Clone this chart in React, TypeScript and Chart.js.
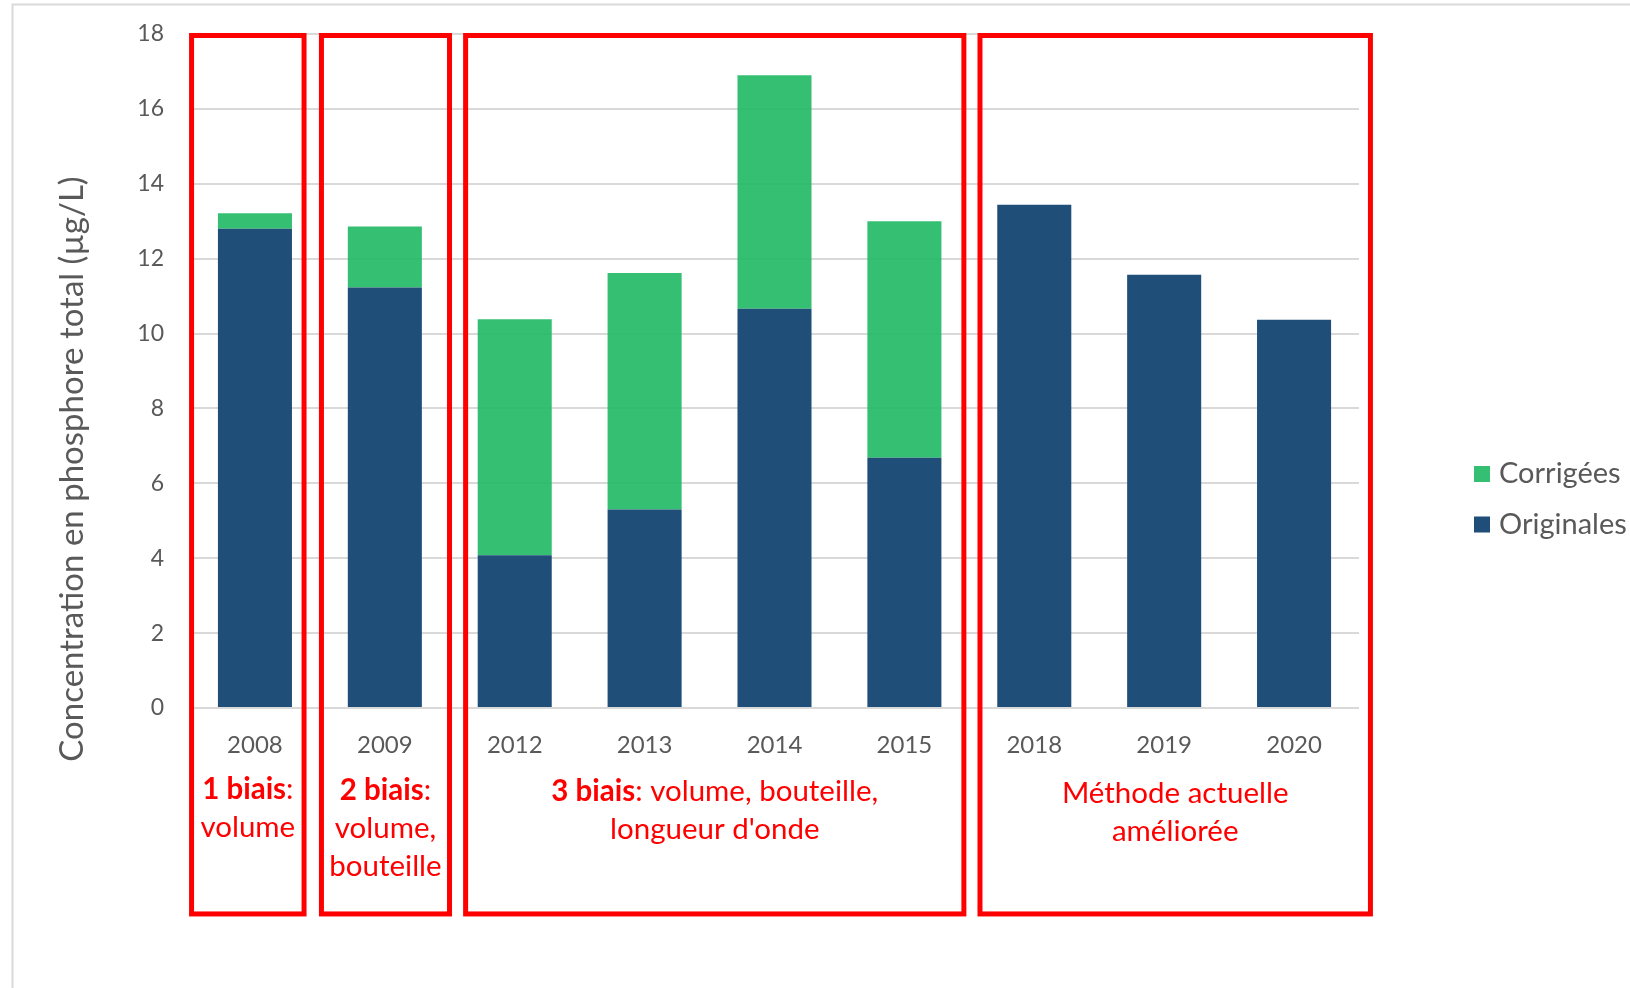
import React, { useEffect, useRef } from 'react';
import { Chart, registerables } from 'chart.js';

Chart.register(...registerables);

// ---- data ----
const categories = ['2008', '2009', '2012', '2013', '2014', '2015', '2018', '2019', '2020'];
const originales = [12.8, 11.23, 4.08, 5.3, 10.66, 6.68, 13.44, 11.57, 10.37];
const corrigees = [0.41, 1.63, 6.3, 6.32, 6.24, 6.32, null, null, null];
const yTicks = [0, 2, 4, 6, 8, 10, 12, 14, 16, 18];
const yTitle = 'Concentration en phosphore total (µg/L)';
const seriesLabels = ['Originales', 'Corrigées'];

// annotation groups (category-index extents) and their texts
const groupStart = [-0.488, 0.512, 1.622, 5.582];
const groupEnd = [0.378, 1.498, 5.458, 8.588];
const groupTop = 17.96;
const groupBottom = -5.5;
const groupLines = [
  [[['1 biais', true], [':', false]], [['volume', false]]],
  [[['2 biais', true], [':', false]], [['volume,', false]], [['bouteille', false]]],
  [[['3 biais', true], [': volume, bouteille,', false]], [["longueur d'onde", false]]],
  [[['Méthode actuelle', false]], [['améliorée', false]]],
];
const groupTextOffset = [81, 82, 83, 85];

const NAVY = '#1F4E79';
const GREEN = 'rgba(31,184,99,0.9)';
const GREEN_LEG = '#35BF73';
const GRAY = '#595959';
const RED = '#FF0000';
const FONT = 'Lato, "Open Sans", sans-serif';

export default function App() {
  const ref = useRef<HTMLCanvasElement>(null);

  useEffect(() => {
    const overlay = {
      id: 'overlay',
      beforeDraw(chart: any) {
        const ctx = chart.ctx;
        ctx.save();
        ctx.fillStyle = '#FFFFFF';
        ctx.fillRect(0, 0, chart.width, chart.height);
        ctx.strokeStyle = '#D9D9D9';
        ctx.lineWidth = 2;
        ctx.beginPath();
        ctx.moveTo(12.5, chart.height);
        ctx.lineTo(12.5, 4.5);
        ctx.lineTo(chart.width, 4.5);
        ctx.stroke();
        ctx.restore();
      },
      afterDraw(chart: any) {
        const ctx = chart.ctx;
        const xs = chart.scales.x;
        const ys = chart.scales.y;
        const area = chart.chartArea;
        ctx.save();
        // red boxes
        ctx.strokeStyle = RED;
        ctx.lineWidth = 5;
        const top = ys.getPixelForValue(groupTop);
        const bottom = ys.getPixelForValue(groupBottom);
        groupStart.forEach((s, i) => {
          const l = xs.getPixelForValue(s);
          const r = xs.getPixelForValue(groupEnd[i]);
          ctx.strokeRect(l, top, r - l, bottom - top);
          // texts
          const cx = (l + r) / 2;
          ctx.textBaseline = 'middle';
          ctx.fillStyle = RED;
          groupLines[i].forEach((line: any, k: number) => {
            const y = area.bottom + groupTextOffset[i] + k * 38;
            let total = 0;
            const widths = line.map(([t, b]: any) => {
              ctx.font = `${b ? 'bold ' : ''}29.5px ${FONT}`;
              const w = ctx.measureText(t).width;
              total += w;
              return w;
            });
            let x = cx - total / 2;
            ctx.textAlign = 'left';
            line.forEach(([t, b]: any, j: number) => {
              ctx.font = `${b ? 'bold ' : ''}29.5px ${FONT}`;
              ctx.fillText(t, x, y);
              x += widths[j];
            });
          });
        });
        // y axis title
        ctx.save();
        ctx.translate(72, 469);
        ctx.rotate(-Math.PI / 2);
        ctx.font = `33px ${FONT}`;
        ctx.fillStyle = GRAY;
        ctx.textAlign = 'center';
        ctx.textBaseline = 'middle';
        ctx.fillText(yTitle, 0, 0);
        ctx.restore();
        // legend (reversed order)
        const legColors = [GREEN_LEG, NAVY];
        const legLabels = [seriesLabels[1], seriesLabels[0]];
        ctx.font = `29px ${FONT}`;
        ctx.textAlign = 'left';
        ctx.textBaseline = 'middle';
        legLabels.forEach((lab, i) => {
          const cy = 474 + i * 50.5;
          ctx.fillStyle = legColors[i];
          ctx.fillRect(1474, cy - 8, 16, 16);
          ctx.fillStyle = GRAY;
          ctx.fillText(lab, 1499, cy);
        });
        ctx.restore();
      },
    };

    const chart = new Chart(ref.current as HTMLCanvasElement, {
      type: 'bar',
      data: {
        labels: categories,
        datasets: [
          { label: seriesLabels[0], data: originales, backgroundColor: NAVY, stack: 's' },
          { label: seriesLabels[1], data: corrigees as any, backgroundColor: GREEN, stack: 's' },
        ],
      },
      options: {
        responsive: false,
        animation: false,
        layout: { padding: { left: 0, right: 271, top: 34, bottom: 0 } },
        plugins: { legend: { display: false }, tooltip: { enabled: false } },
        datasets: { bar: { categoryPercentage: 1, barPercentage: 0.57 } },
        scales: {
          x: {
            stacked: true,
            grid: { display: false },
            border: { display: false },
            ticks: { color: GRAY, font: { family: FONT, size: 24 }, padding: 15, maxRotation: 0 },
            afterFit: (s: any) => { s.height = 280; s.paddingLeft = 0; s.paddingRight = 0; },
          },
          y: {
            stacked: true,
            min: 0,
            max: 18,
            afterBuildTicks: (s: any) => { s.ticks = yTicks.map((v) => ({ value: v })); },
            ticks: { color: GRAY, font: { family: FONT, size: 23 }, padding: 26 },
            grid: { color: '#D9D9D9', lineWidth: 2, drawTicks: false },
            border: { display: false },
            afterFit: (s: any) => { s.width = 190; s.paddingTop = 0; s.paddingBottom = 0; },
          },
        },
      },
      plugins: [overlay],
    });
    return () => chart.destroy();
  }, []);

  return (
    <div style={{ position: 'absolute', left: 0, top: 0, width: 1630, height: 988, overflow: 'hidden' }}>
      <canvas ref={ref} width={1630} height={988} style={{ display: 'block', width: 1630, height: 988 }} />
    </div>
  );
}
